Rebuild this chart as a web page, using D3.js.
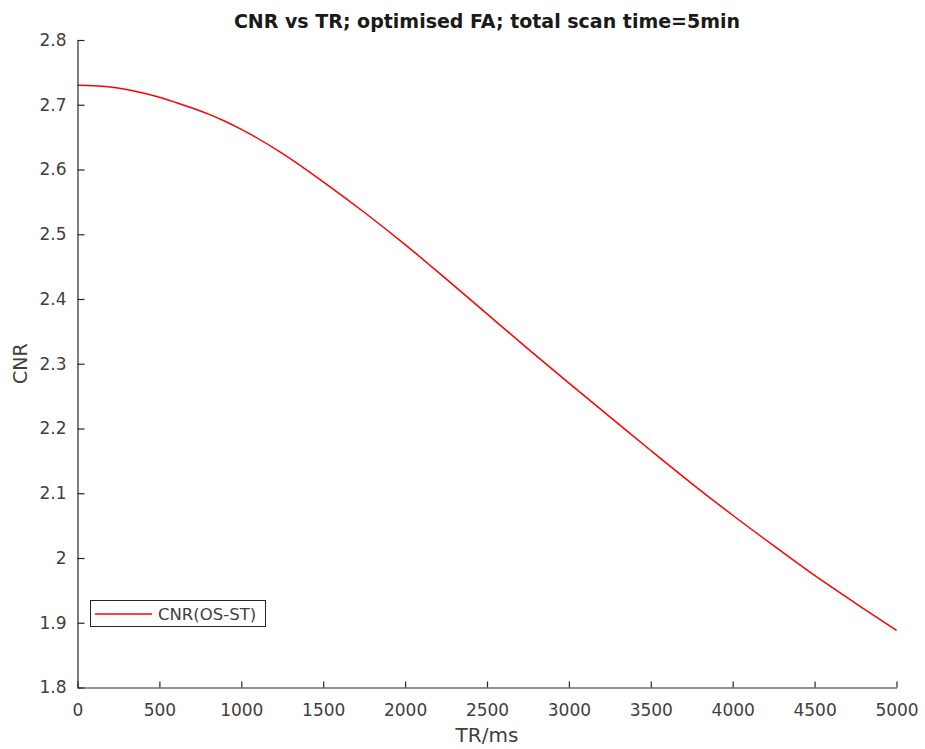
<!DOCTYPE html>
<html>
<head>
<meta charset="utf-8">
<script src="https://cdn.jsdelivr.net/npm/d3@7"></script>
<style>
  html, body { margin: 0; padding: 0; background: #fff; }
  svg { display: block; }
</style>
</head>
<body>
<svg id="chart" width="925" height="749"></svg>
<script>
// ---- data ----
const trValues = [0, 100, 200, 300, 400, 500, 600, 700, 800, 900, 1000, 1250, 1500, 1750, 2000, 2250, 2500, 2750, 3000, 3250, 3500, 3750, 4000, 4250, 4500, 4750, 5000];
const cnrValues = [2.730, 2.7295, 2.7275, 2.7235, 2.718, 2.7115, 2.7035, 2.695, 2.6855, 2.6745, 2.662, 2.625, 2.581, 2.534, 2.484, 2.431, 2.377, 2.323, 2.270, 2.218, 2.166, 2.115, 2.066, 2.019, 1.973, 1.930, 1.888];
const xTicks = [0, 500, 1000, 1500, 2000, 2500, 3000, 3500, 4000, 4500, 5000];
const yTicks = [1.8, 1.9, 2.0, 2.1, 2.2, 2.3, 2.4, 2.5, 2.6, 2.7, 2.8];
const seriesName = "CNR(OS-ST)";
const titleText = "CNR vs TR; optimised FA; total scan time=5min";
const xLabel = "TR/ms";
const yLabel = "CNR";

// ---- layout ----
const mLeft = 77.5, mRight = 896.5, mTop = 40, mBottom = 687.5;
const axisColor = "#262626";
const textColor = "#404040";
const fontFamily = "'DejaVu Sans', sans-serif";

const svg = d3.select("#chart");
const x = d3.scaleLinear().domain([0, 5000]).range([mLeft, mRight]);
const y = d3.scaleLinear().domain([1.8, 2.8]).range([mBottom, mTop]);

const data = trValues.map((t, i) => ({ t, v: cnrValues[i] }));

// line
svg.append("path")
  .datum(data)
  .attr("fill", "none")
  .attr("stroke", "#ff0000")
  .attr("stroke-width", 1.5)
  .attr("d", d3.line().x(d => x(d.t)).y(d => y(d.v)).curve(d3.curveMonotoneX));

// x axis (ticks inward)
const xAxis = svg.append("g")
  .attr("transform", `translate(0,${mBottom})`)
  .call(d3.axisBottom(x).tickValues(xTicks).tickSize(-6).tickSizeOuter(0).tickPadding(16).tickFormat(d3.format("d")));
// y axis (ticks inward)
const yAxis = svg.append("g")
  .attr("transform", `translate(${mLeft},0)`)
  .call(d3.axisLeft(y).tickValues(yTicks).tickSize(-7).tickSizeOuter(0).tickPadding(11).tickFormat(d => d === 2 ? "2" : d3.format(".1f")(d)));

[xAxis, yAxis].forEach(g => {
  g.select(".domain").attr("stroke", axisColor).attr("stroke-width", 1.2);
  g.selectAll(".tick line").attr("stroke", axisColor).attr("stroke-width", 1.2);
  g.selectAll(".tick text")
    .attr("fill", textColor)
    .style("font-family", fontFamily)
    .style("font-size", "17px");
});

// title
svg.append("text")
  .attr("x", (mLeft + mRight) / 2)
  .attr("y", 28)
  .attr("text-anchor", "middle")
  .attr("fill", "#1a1a1a")
  .style("font-family", fontFamily)
  .style("font-weight", "bold")
  .style("font-size", "19px")
  .text(titleText);

// axis labels
svg.append("text")
  .attr("x", (mLeft + mRight) / 2)
  .attr("y", 742)
  .attr("text-anchor", "middle")
  .attr("fill", textColor)
  .style("font-family", fontFamily)
  .style("font-size", "20px")
  .text(xLabel);

svg.append("text")
  .attr("transform", `translate(27,${(mTop + mBottom) / 2}) rotate(-90)`)
  .attr("text-anchor", "middle")
  .attr("fill", textColor)
  .style("font-family", fontFamily)
  .style("font-size", "19px")
  .text(yLabel);

// legend
const leg = svg.append("g");
leg.append("rect")
  .attr("x", 90.5).attr("y", 600.5)
  .attr("width", 175).attr("height", 26)
  .attr("fill", "#fff")
  .attr("stroke", axisColor)
  .attr("stroke-width", 1);
leg.append("line")
  .attr("x1", 95).attr("x2", 152)
  .attr("y1", 614).attr("y2", 614)
  .attr("stroke", "#ff0000")
  .attr("stroke-width", 1.5);
leg.append("text")
  .attr("x", 158)
  .attr("y", 620)
  .attr("fill", textColor)
  .style("font-family", fontFamily)
  .style("font-size", "16.5px")
  .text(seriesName);
</script>
</body>
</html>
